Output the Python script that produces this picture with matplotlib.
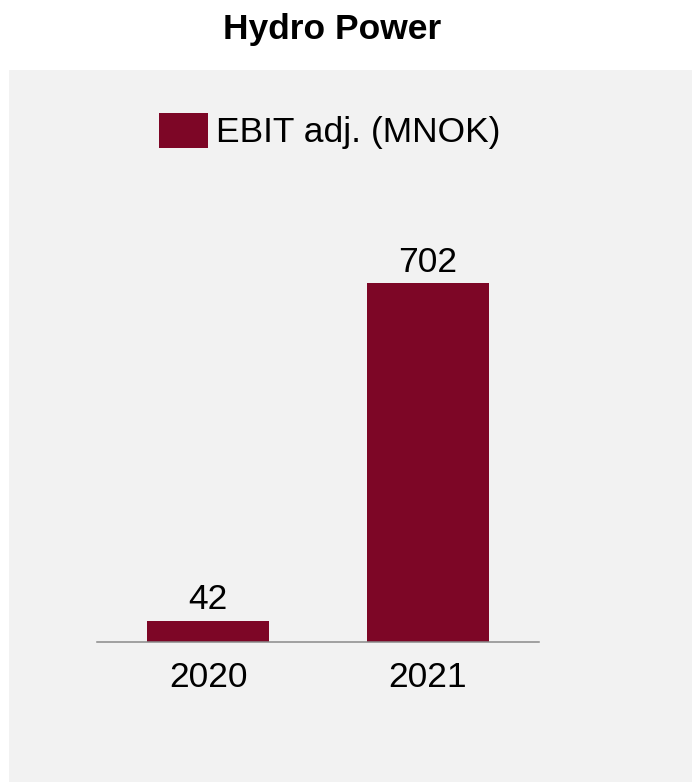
import matplotlib
matplotlib.use("Agg")
from matplotlib import pyplot as plt
from matplotlib.patches import Rectangle, Patch

years = ["2020", "2021"]
ebit = [42, 702]
series_name = "EBIT adj. (MNOK)"
title = "Hydro Power"

bar_color = "#7d0626"
panel_color = "#f2f2f2"

plt.rcParams["font.family"] = ["Liberation Sans", "DejaVu Sans"]

W, H = 692, 782
fig = plt.figure(figsize=(W / 100, H / 100), dpi=100, facecolor="white")

# grey panel behind the chart
fig.patches.append(Rectangle((9 / W, 0), 1, 1 - 70 / H, transform=fig.transFigure,
                             facecolor=panel_color, edgecolor="none", zorder=-5))

fig.text(332 / W, 1 - 30 / H, title, ha="center", va="center",
         fontsize=25.5, fontweight="bold")

ax = fig.add_axes([97 / W, (H - 642) / H, 442 / W, 409 / H])
ax.set_facecolor("none")
ax.set_zorder(2)
x = range(len(years))
bars = ax.bar(x, ebit, width=0.555, color=bar_color, zorder=2)
ax.set_xlim(-0.505, 1.505)
ax.set_ylim(0, 800)

for b, v in zip(bars, ebit):
    ax.annotate(str(v), (b.get_x() + b.get_width() / 2, v), xytext=(0, 3),
                textcoords="offset points", ha="center", va="bottom", fontsize=25.5)

ax.set_xticks(list(x))
ax.set_xticklabels(years, fontsize=25.5)
ax.tick_params(axis="x", length=0, pad=14)
ax.set_yticks([])
for s in ["top", "right", "left"]:
    ax.spines[s].set_visible(False)
ax.spines["bottom"].set_color("#8a8a8a")
ax.spines["bottom"].set_linewidth(1.1)

fig.legend(handles=[Patch(facecolor=bar_color, label=series_name)],
           loc="center left", bbox_to_anchor=(159 / W, 1 - 131 / H),
           frameon=False, fontsize=25.5, borderpad=0, borderaxespad=0,
           handlelength=1.38, handleheight=1.18, handletextpad=0.23)

fig.savefig("out.png", dpi=100)
